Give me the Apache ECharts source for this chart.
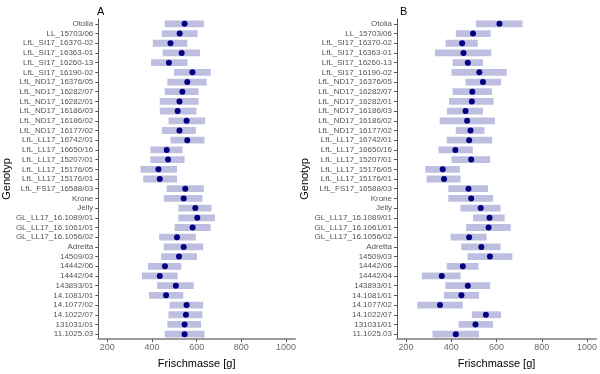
<!DOCTYPE html>
<html>
<head>
<meta charset="utf-8">
<script src="https://cdn.jsdelivr.net/npm/echarts@6/dist/echarts.min.js"></script>
<style>html,body{margin:0;padding:0;background:#fff}#c{width:600px;height:374px}</style>
</head>
<body>
<div id="c"></div>
<script>
const categories = ["Otolia","LL_15703/06","LfL_SI17_16370-02","LfL_SI17_16363-01","LfL_SI17_16260-13","LfL_SI17_16190-02","LfL_ND17_16376/05","LfL_ND17_16282/07","LfL_ND17_16282/01","LfL_ND17_16186/03","LfL_ND17_16186/02","LfL_ND17_16177/02","LfL_LL17_16742/01","LfL_LL17_16650/16","LfL_LL17_15207/01","LfL_LL17_15176/05","LfL_LL17_15176/01","LfL_FS17_16588/03","Krone","Jelly","GL_LL17_16.1089/01","GL_LL17_16.1061/01","GL_LL17_16.1056/02","Adretta","14509/03","14442/06","14442/04","143893/01","14.1081/01","14.1077/02","14.1022/07","131031/01","11.1025.03"];
const aLow  = [457,444,404,448,396,499,469,457,435,435,474,444,483,393,393,349,361,466,453,518,518,501,432,453,441,382,355,423,387,479,474,469,457];
const aHigh = [632,604,558,615,559,663,645,609,609,599,638,596,635,537,546,512,512,632,626,666,682,663,596,629,601,531,515,587,540,629,626,620,635];
const aMean = [546,524,483,533,476,581,558,536,523,515,555,523,558,466,472,429,435,549,542,594,603,582,512,542,521,458,435,507,463,555,552,546,546];
const bLow  = [509,420,375,328,406,401,463,406,390,381,349,420,380,343,401,285,291,387,387,441,496,466,397,444,472,380,270,374,368,250,491,432,317];
const bHigh = [715,574,517,577,540,645,620,580,587,540,593,547,581,495,572,438,441,562,585,618,636,663,556,618,670,520,441,572,523,451,620,584,523];
const bMean = [613,496,448,454,473,524,540,493,491,463,470,485,479,418,488,362,368,476,488,530,569,565,479,533,571,451,358,473,445,350,553,507,420];
const xTicks = [200,400,600,800,1000];
const panelTitles = ["A","B"];
const xTitle = "Frischmasse [g]";
const yTitle = "Genotyp";

const FONT = "'Liberation Sans', Arial, sans-serif";
const chart = echarts.init(document.getElementById('c'), null, {renderer:'canvas'});

function rangeData(lo, hi){ return categories.map((c,i)=>[i, lo[i], hi[i]]); }
function pointData(m){ return categories.map((c,i)=>[m[i], i]); }

function renderRange(params, api){
  const idx = api.value(0);
  const s = api.coord([api.value(1), idx]);
  const e = api.coord([api.value(2), idx]);
  const h = api.size([0,1])[1] * 0.7;
  const shape = echarts.graphic.clipRectByRect({x:s[0], y:s[1]-h/2, width:e[0]-s[0], height:h},
    {x:params.coordSys.x, y:params.coordSys.y, width:params.coordSys.width, height:params.coordSys.height});
  return shape && {type:'rect', shape, style:{fill:'#bdbee0'}};
}

const grids = [
  {left:95, width:200, top:19, bottom:27},
  {left:397, width:200, top:19, bottom:27}
];
const xAxes = [0,1].map(g=>({
  type:'value', gridIndex:g, min:160, max:1040,
  splitLine:{show:false},
  axisLine:{show:true, lineStyle:{color:'#9a9a9a', width:2}},
  axisTick:{show:true, length:3, lineStyle:{color:'#555'}, customValues:xTicks},
  axisLabel:{color:'#6b6b6b', fontSize:9, fontFamily:FONT, margin:4, customValues:xTicks, formatter:v=>String(v)},
  name:xTitle, nameLocation:'middle', nameGap:19,
  nameTextStyle:{color:'#000', fontSize:11, fontFamily:FONT}
}));
const yAxes = [0,1].map(g=>({
  type:'category', gridIndex:g, data:categories, inverse:true,
  axisLine:{show:true, lineStyle:{color:'#555', width:1}},
  axisTick:{show:true, length:3, alignWithLabel:true, lineStyle:{color:'#555'}},
  axisLabel:{color:'#555', fontSize:8, fontFamily:FONT, margin:5, interval:0},
  name:yTitle, nameLocation:'middle', nameGap:79, nameRotate:90,
  nameTextStyle:{color:'#000', fontSize:11, fontFamily:FONT}
}));

chart.setOption({
  animation:false,
  backgroundColor:'#fff',
  title:[
    {text:panelTitles[0], left:92, top:1, textStyle:{fontSize:11, fontWeight:'normal', color:'#000', fontFamily:FONT}},
    {text:panelTitles[1], left:395, top:1, textStyle:{fontSize:11, fontWeight:'normal', color:'#000', fontFamily:FONT}}
  ],
  grid:grids,
  xAxis:xAxes,
  yAxis:yAxes,
  series:[
    {type:'custom', xAxisIndex:0, yAxisIndex:0, renderItem:renderRange, data:rangeData(aLow,aHigh), encode:{x:[1,2], y:0}},
    {type:'scatter', xAxisIndex:0, yAxisIndex:0, data:pointData(aMean), symbolSize:6, itemStyle:{color:'#00007f', opacity:1}},
    {type:'custom', xAxisIndex:1, yAxisIndex:1, renderItem:renderRange, data:rangeData(bLow,bHigh), encode:{x:[1,2], y:0}},
    {type:'scatter', xAxisIndex:1, yAxisIndex:1, data:pointData(bMean), symbolSize:6, itemStyle:{color:'#00007f', opacity:1}}
  ]
});
</script>
</body>
</html>
